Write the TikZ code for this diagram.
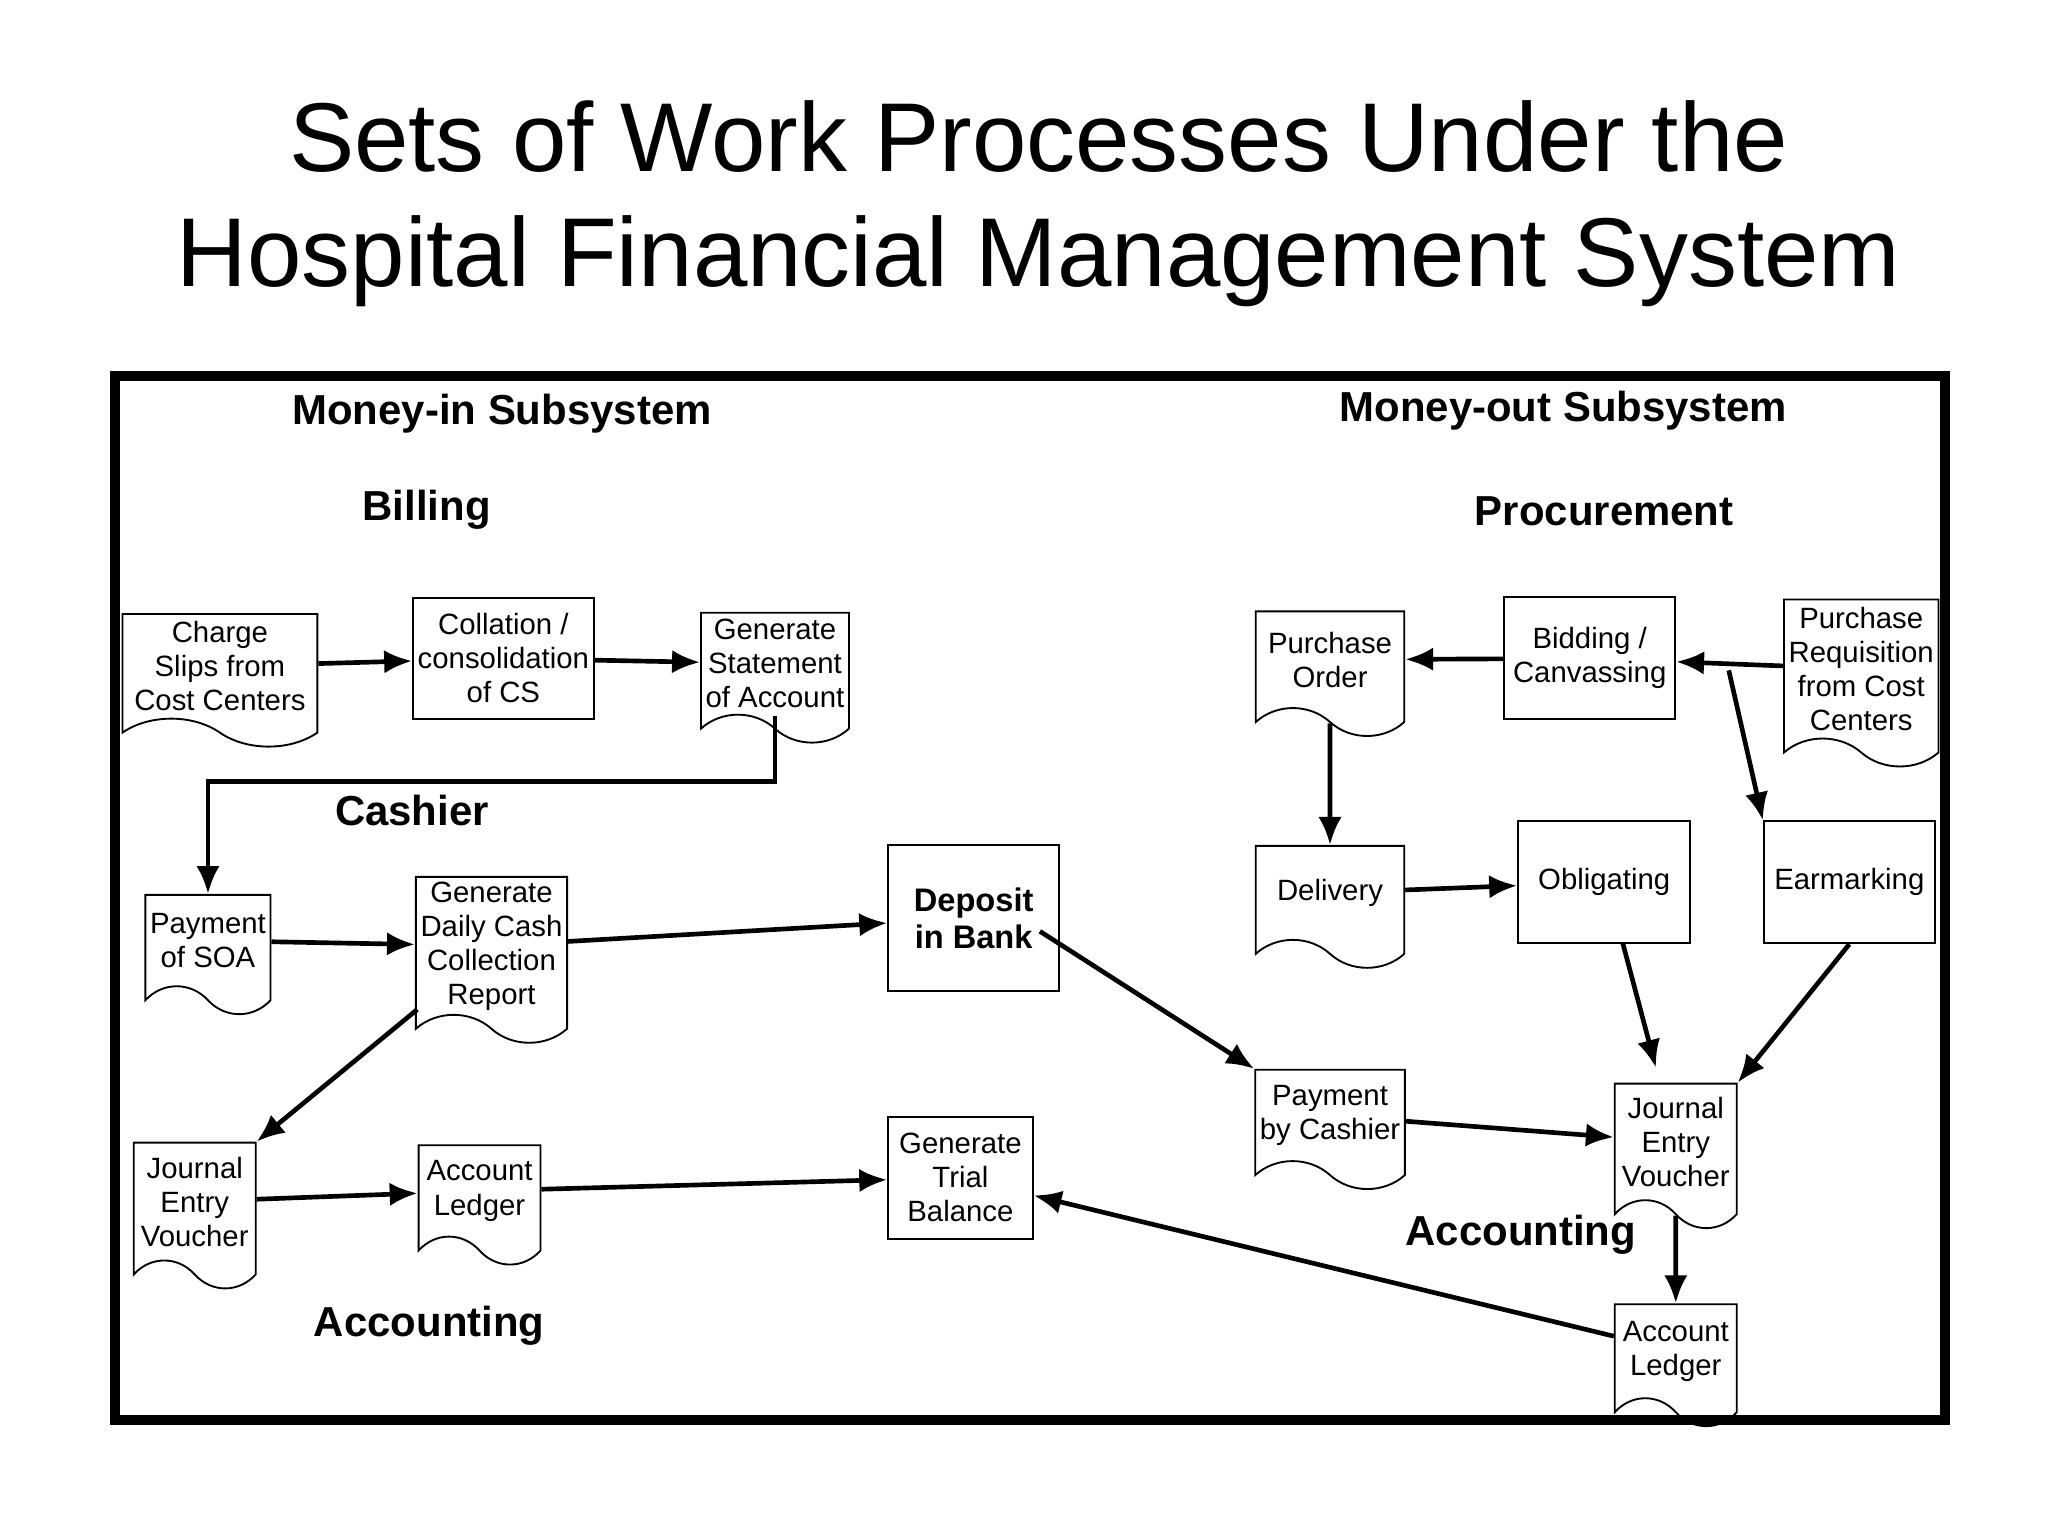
\documentclass[tikz,border=0pt]{standalone}
\usepackage{fontspec}
\setmainfont{Liberation Sans}
\usetikzlibrary{shapes.symbols,arrows.meta}
\tikzset{
  box/.style={draw,rectangle,inner sep=1pt,align=center,font=\fontsize{6.3}{7.3}\selectfont},
  doc/.style={draw,tape,tape bend top=none,tape bend bottom=out and in,tape bend height=6pt,inner sep=1pt,align=center,font=\fontsize{6.3}{7.3}\selectfont},
  head/.style={font=\fontsize{9}{10}\selectfont\bfseries},
  flow/.style={-{Latex[length=6pt,width=5pt]},line width=1pt}
}
\begin{document}
\begin{tikzpicture}[x=0.01cm,y=-0.01cm]
\useasboundingbox (0,0) rectangle (1546,1160);
%-------->title<--------------
\node at (784,103) {\fontsize{21}{24}\selectfont Sets of Work Processes Under the};
\node at (784,197) {\fontsize{21}{24}\selectfont Hospital Financial Management System};
\draw[line width=2.2pt] (87,284) rectangle (1468,1072);
%-------->headings<--------------
\node[head] at (379,312) {Money-in Subsystem};
\node[head] at (322,385) {Billing};
\node[head] at (311,612) {Cashier};
\node[head] at (324,1001) {Accounting};
\node[head] at (1180,310) {Money-out Subsystem};
\node[head] at (1211,386) {Procurement};
\node[head] at (1148,932) {Accounting};
%-------->money-in<--------------
\node[doc,minimum width=1.47cm,minimum height=1cm] (charge) at (166,503) {Charge\\Slips from\\Cost Centers};
\node[box,minimum width=1.27cm,minimum height=0.91cm] (coll) at (380,497) {Collation /\\consolidation\\of CS};
\node[doc,minimum width=1.11cm,minimum height=0.98cm] (gsoa) at (585,501) {Generate\\Statement\\of Account};
\node[doc,minimum width=0.92cm,minimum height=0.9cm] (psoa) at (157,710) {Payment\\of SOA};
\node[doc,minimum width=1.04cm,minimum height=1.1cm] (daily) at (371,714) {Generate\\Daily Cash\\Collection\\Report};
\node[box,minimum width=1.29cm,minimum height=1.1cm,font=\fontsize{7}{8}\selectfont\bfseries] (dep) at (735,693) {Deposit\\in Bank};
\node[doc,minimum width=0.92cm,minimum height=1.1cm] (jevl) at (147,907) {Journal\\Entry\\Voucher};
\node[doc,minimum width=0.92cm,minimum height=0.9cm] (ledl) at (362,899) {Account\\Ledger};
\node[box,minimum width=1.09cm,minimum height=0.92cm] (trial) at (725,889) {Generate\\Trial\\Balance};
%-------->money-out<--------------
\node[doc,minimum width=1.12cm,minimum height=0.94cm] (po) at (1004,498) {Purchase\\Order};
\node[box,minimum width=1.29cm,minimum height=0.92cm] (bid) at (1200,497) {Bidding /\\Canvassing};
\node[doc,minimum width=1.12cm,minimum height=1.26cm] (req) at (1405,505) {Purchase\\Requisition\\from Cost\\Centers};
\node[doc,minimum width=1.12cm,minimum height=0.92cm] (deliv) at (1004,674) {Delivery};
\node[box,minimum width=1.3cm,minimum height=0.92cm] (oblig) at (1211,666) {Obligating};
\node[box,minimum width=1.29cm,minimum height=0.92cm] (ear) at (1396,666) {Earmarking};
\node[doc,minimum width=1.12cm,minimum height=0.9cm] (pcash) at (1004,842) {Payment\\by Cashier};
\node[doc,minimum width=0.92cm,minimum height=1.09cm] (jevr) at (1265,862) {Journal\\Entry\\Voucher};
\node[doc,minimum width=0.92cm,minimum height=0.92cm] (ledr) at (1265,1020) {Account\\Ledger};
\coordinate (split) at (1305,506);
%-------->arrows<--------------
\draw[flow] (charge) -- (coll);
\draw[flow] (coll) -- (gsoa);
\draw[flow] (gsoa.south) -- (585,590) -- (157,590) -- (psoa.north);
\draw[flow] (psoa) -- (daily);
\draw[flow] (daily) -- (dep);
\draw[flow] (315,762) -- (jevl.north east);
\draw[flow] (jevl) -- (ledl);
\draw[flow] (ledl) -- (trial);
\draw[flow] (785,703) -- (pcash.north west);
\draw[flow] (req) -- (bid);
\draw[flow] (bid) -- (po);
\draw[flow] (po) -- (deliv);
\draw[flow] (deliv) -- (oblig);
\draw[flow] (split) -- (ear.north west);
\draw[flow] (1225,712) -- (1250,806);
\draw[flow] (ear.south) -- (jevr.north east);
\draw[flow] (pcash) -- (jevr);
\draw[flow] (jevr) -- (ledr);
\draw[flow] (ledr) -- (trial);
\end{tikzpicture}
\end{document}
